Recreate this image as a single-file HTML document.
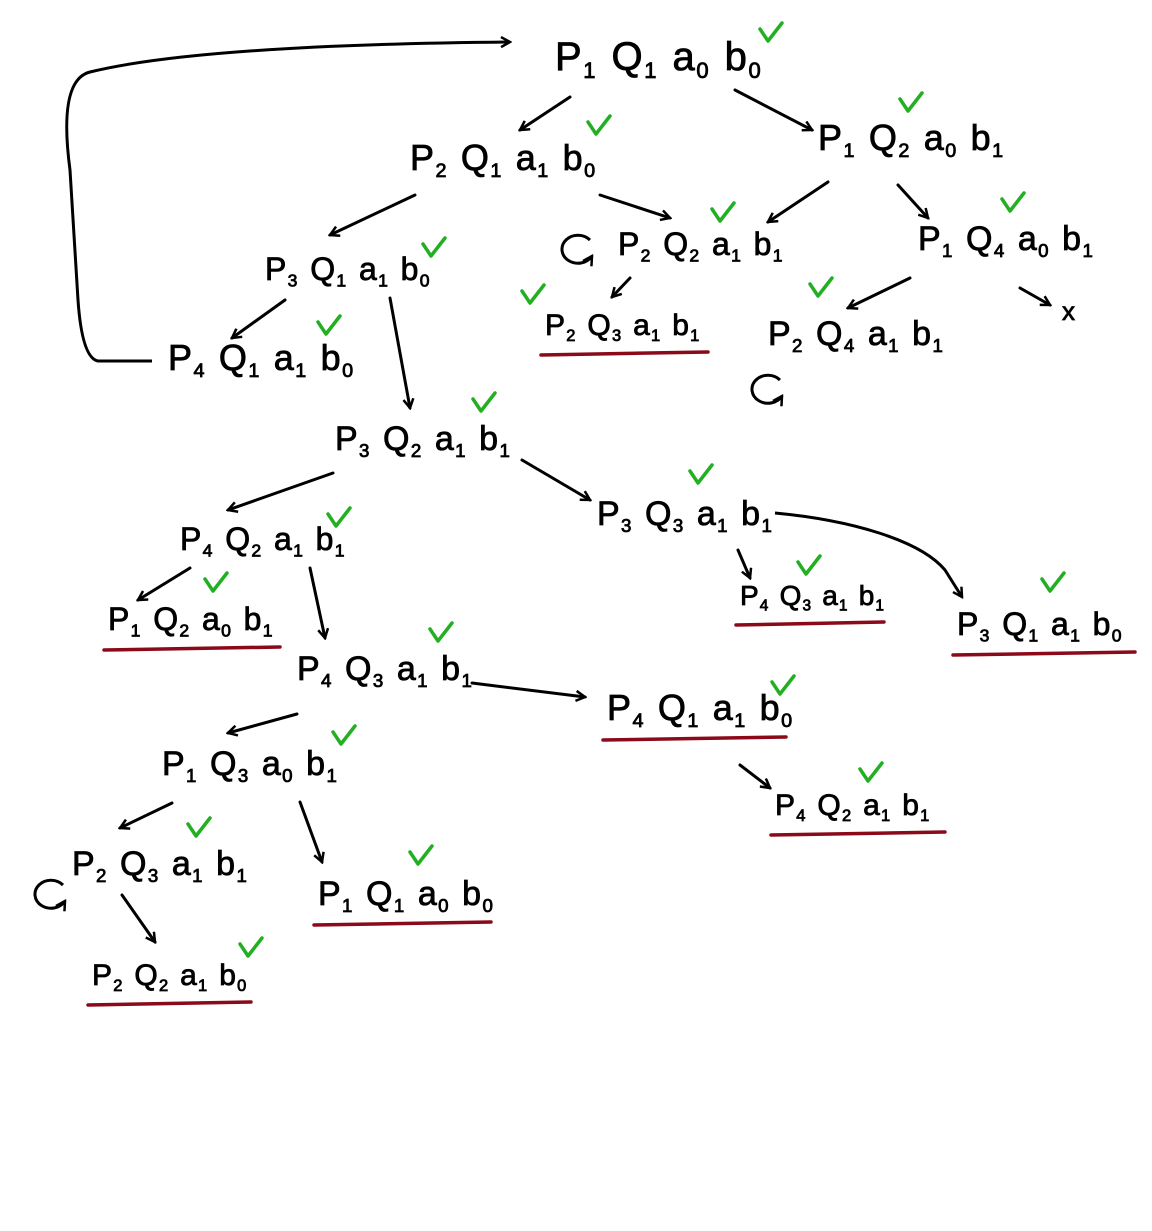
<!DOCTYPE html>
<html><head><meta charset="utf-8">
<style>
html,body{margin:0;padding:0;background:#fff;}
svg{display:block;}
text{font-family:"Liberation Sans",sans-serif;fill:#000;stroke:#000;stroke-width:0.8px;}
</style></head>
<body>
<svg id="c" width="1152" height="1231" viewBox="0 0 1152 1231">
<defs>
<marker id="ah" viewBox="0 0 12 12" refX="10" refY="6" markerWidth="12" markerHeight="12" markerUnits="userSpaceOnUse" orient="auto">
<path d="M1,1 L10,6 L1,11" fill="none" stroke="#000" stroke-width="2.5"/>
</marker>
</defs>
</svg>
<script>
const nodeLabels=["P1Q1a0b0","P2Q1a1b0","P1Q2a0b1","P3Q1a1b0","P2Q2a1b1","P1Q4a0b1","P2Q3a1b1","P2Q4a1b1","P4Q1a1b0","P3Q2a1b1","P3Q3a1b1","P4Q2a1b1","P1Q2a0b1","P4Q3a1b1","P3Q1a1b0","P4Q3a1b1","P4Q1a1b0","P1Q3a0b1","P4Q2a1b1","P2Q3a1b1","P1Q1a0b0","P2Q2a1b0"];
const nodeX=[555,410,818,265,618,918,545,768,168,335,597,180,108,740,957,297,607,162,775,72,318,92];
const nodeY=[70,170,150,280,255,250,335,345,370,450,525,550,630,605,635,680,720,775,815,875,905,985];
const nodeSize=[40,36,36,32,32,34,30,34,36,34,34,32,32,28,32,34,36,34,30,34,34,30];
const checkX=[770,598,910,433,722,1012,532,820,328,483,700,338,215,808,1052,440,782,343,870,198,420,250];
const checkY=[35,128,105,250,215,205,297,290,328,405,477,520,585,568,585,635,688,738,775,830,858,950];
const underline=[0,0,0,0,0,0,1,0,0,0,0,0,1,1,1,0,1,0,1,0,1,1];
const ulWidth=[0,0,0,0,0,0,167,0,0,0,0,0,176,148,182,0,183,0,174,0,177,163];
const arrows=[[570,97,520,130],[735,90,812,130],[415,195,330,235],[600,195,670,218],[828,182,768,222],[898,185,928,218],[285,300,232,338],[390,298,410,408],[630,278,612,297],[910,278,848,308],[333,473,228,510],[522,460,590,500],[190,568,138,600],[310,568,325,638],[738,550,750,578],[472,683,585,697],[297,714,228,733],[740,765,770,788],[172,803,120,828],[300,802,322,862],[122,895,155,942],[1020,288,1050,305]];
const loops=[[572,250],[762,390],[45,895]];
const svg=document.getElementById('c');
const NS='http://www.w3.org/2000/svg';
function mk(t,a){const e=document.createElementNS(NS,t);for(const k in a)e.setAttribute(k,a[k]);svg.appendChild(e);return e;}
nodeLabels.forEach((lab,i)=>{
  const s=nodeSize[i];
  const t=mk('text',{x:nodeX[i],y:nodeY[i],'font-size':s});
  
  
  for(let j=0;j<lab.length;j+=2){
    const a=document.createElementNS(NS,'tspan');a.textContent=lab[j];
    if(j>0)a.setAttribute('dx',s*0.4);
    a.setAttribute('dy', j>0? -s*0.2:0);
    t.appendChild(a);
    const b=document.createElementNS(NS,'tspan');b.textContent=lab[j+1];
    b.setAttribute('font-size',s*0.55);b.setAttribute('dy',s*0.2);b.setAttribute('dx',s*0.04);
    t.appendChild(b);
  }
  const c=mk('path',{d:`M${checkX[i]-10},${checkY[i]-6} L${checkX[i]-2},${checkY[i]+6} L${checkX[i]+12},${checkY[i]-12}`,fill:'none',stroke:'#22b022','stroke-width':3.5,'stroke-linecap':'round','stroke-linejoin':'round'});
  
  
  if(underline[i]){
    const u=mk('path',{d:`M${nodeX[i]-4},${nodeY[i]+20} L${nodeX[i]-4+ulWidth[i]},${nodeY[i]+17}`,stroke:'#8b0a1a','stroke-width':3.5,fill:'none','stroke-linecap':'round'});
    
    
  }
});
arrows.forEach(a=>{
  const p=mk('path',{d:`M${a[0]},${a[1]} L${a[2]},${a[3]}`,stroke:'#000','stroke-width':3,fill:'none','marker-end':'url(#ah)','stroke-linecap':'round'});
  
  
});
const cv=mk('path',{d:'M775,513 C850,520 920,540 945,570 L962,597',stroke:'#000','stroke-width':3,fill:'none','marker-end':'url(#ah)'});


const back=mk('path',{d:'M152,361 L98,361 Q82,358 78,300 L70,170 Q58,80 90,72 Q200,45 510,42',stroke:'#000','stroke-width':3,fill:'none','marker-end':'url(#ah)'});


loops.forEach(l=>{
  const p=mk('path',{d:`M${l[0]+18},${l[1]-10} A16,14 0 1 0 ${l[0]+20},${l[1]+6}`,stroke:'#000','stroke-width':3,fill:'none','marker-end':'url(#ah)'});
  
  
});
const x=mk('text',{x:1062,y:320,'font-size':26});x.textContent='x';


</script>
</body></html>
